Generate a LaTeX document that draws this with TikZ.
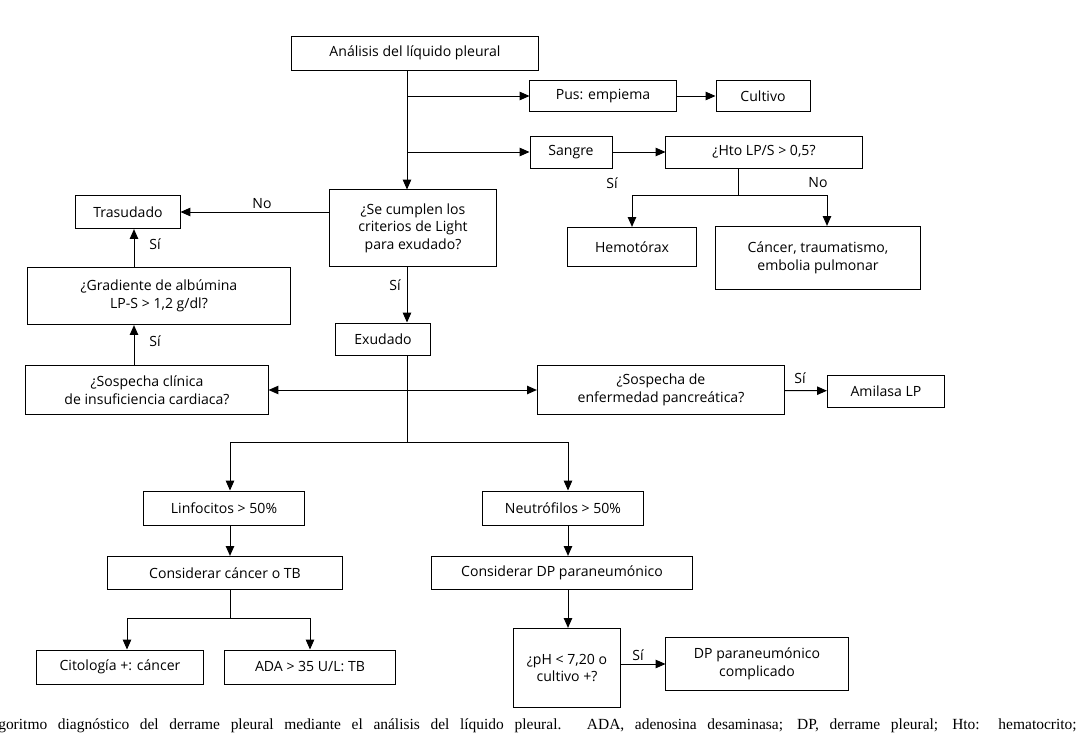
\documentclass[tikz,border=0pt]{standalone}
\usepackage{fontspec}
\setmainfont{Liberation Serif}
\newfontfamily\boxfont{Open Sans}
\usetikzlibrary{arrows.meta}

\begin{document}
\begin{tikzpicture}[x=0.025cm, y=-0.025cm,
    box/.style={draw, line width=0.7pt, align=center, inner sep=2pt,
      font=\boxfont\fontsize{10}{12.5}\selectfont},
    arr/.style={line width=0.7pt, -{Triangle[length=7pt,width=6pt]}},
    lbl/.style={font=\boxfont\fontsize{10}{12}\selectfont}]
    \useasboundingbox (0,0) rectangle (1080,735);

    % upper part
    \node[box, minimum width=6.15cm, minimum height=0.85cm] (analisis) at (415,53) {Análisis del líquido pleural};
    \node[box, minimum width=3.65cm, minimum height=0.78cm] (pus) at (603,96) {Pus: empiema};
    \node[box, minimum width=2.35cm, minimum height=0.78cm] (cultivo) at (763,96) {Cultivo};
    \node[box, minimum width=2.05cm, minimum height=0.8cm] (sangre) at (571,152) {Sangre};
    \node[box, minimum width=4.9cm, minimum height=0.8cm] (hto) at (764,152) {¿Hto LP/S > 0,5?};
    \node[box, minimum width=3.22cm, minimum height=0.98cm] (hemo) at (632,247) {Hemotórax};
    \node[box, minimum width=5.1cm, minimum height=1.58cm] (cancer) at (818,258) {Cáncer, traumatismo,\\embolia pulmonar};
    \node[box, minimum width=4.18cm, minimum height=1.9cm] (light) at (413,228) {¿Se cumplen los\\criterios de Light\\para exudado?};
    \node[box, minimum width=2.6cm, minimum height=0.83cm] (trasudado) at (128,212) {Trasudado};
    \node[box, minimum width=6.55cm, minimum height=1.43cm] (gradiente) at (159,296) {¿Gradiente de albúmina\\LP-S > 1,2 g/dl?};
    \node[box, minimum width=2.35cm, minimum height=0.8cm] (exudado) at (383,339) {Exudado};
    \node[box, minimum width=6.05cm, minimum height=1.23cm] (cardiaca) at (147,390) {¿Sospecha clínica\\de insuficiencia cardiaca?};
    \node[box, minimum width=6.18cm, minimum height=1.23cm] (pancreas) at (661,390) {¿Sospecha de\\enfermedad pancreática?};
    \node[box, minimum width=2.93cm, minimum height=0.8cm] (amilasa) at (886,391) {Amilasa LP};

    % lower part
    \node[box, minimum width=4.03cm, minimum height=0.85cm] (linfo) at (224,508) {Linfocitos > 50\%};
    \node[box, minimum width=4.0cm, minimum height=0.85cm] (neutro) at (563,508) {Neutrófilos > 50\%};
    \node[box, minimum width=5.88cm, minimum height=0.83cm] (consc) at (225,573) {Considerar cáncer o TB};
    \node[box, minimum width=6.53cm, minimum height=0.83cm] (consdp) at (562,573) {Considerar DP paraneumónico};
    \node[box, minimum width=4.15cm, minimum height=0.85cm] (cito) at (120,667) {Citología +: cáncer};
    \node[box, minimum width=4.28cm, minimum height=0.85cm] (ada) at (310,667) {ADA > 35 U/L: TB};
    \node[box, minimum width=2.65cm, minimum height=1.98cm] (ph) at (567,668) {¿pH < 7,20 o\\cultivo +?};
    \node[box, minimum width=4.55cm, minimum height=1.33cm] (dpc) at (757,664) {DP paraneumónico\\complicado};

    \coordinate (j1) at (407,96);
    \coordinate (j2) at (407,152);
    \coordinate (j3) at (738,195);
    \coordinate (j4) at (407,390);
    \coordinate (j5) at (407,442);
    \coordinate (j6) at (230,618);

    \draw[arr] (analisis.south -| j1) -- (light.north -| j1);
    \draw[arr] (j1) -- (pus);
    \draw[arr] (pus) -- (cultivo);
    \draw[arr] (j2) -- (sangre);
    \draw[arr] (sangre) -- (hto);
    \draw[line width=0.7pt] (hto.south -| j3) -- (j3);
    \draw[arr] (j3) -| (hemo.north);
    \draw[arr] (j3) -| (cancer.north -| 827,0);
    \node[lbl] (si1) at (612,183) {Sí};
    \node[lbl] (no1) at (818,183) {No};

    \draw[arr] (light.west |- trasudado) -- (trasudado);
    \node[lbl] (no2) at (262,204) {No};
    \draw[arr] (light.south -| j1) -- (exudado.north -| j1);
    \node[lbl] (si2) at (395,285) {Sí};
    \draw[arr] (gradiente.north -| 134,0) -- (trasudado.south -| 134,0);
    \node[lbl] (si3) at (155,244) {Sí};
    \draw[arr] (cardiaca.north -| 134,0) -- (gradiente.south -| 134,0);
    \node[lbl] (si4) at (155,341) {Sí};

    \draw[line width=0.7pt] (exudado.south -| j4) -- (j5);
    \draw[arr] (j4) -- (cardiaca.east |- j4);
    \draw[arr] (j4) -- (pancreas.west |- j4);
    \draw[arr] (pancreas) -- (amilasa);
    \node[lbl] (si5) at (800,378) {Sí};
    \draw[arr] (j5) -| (linfo.north -| j6);
    \draw[arr] (j5) -| (neutro.north -| 568,0);

    \draw[arr] (linfo.south -| j6) -- (consc.north -| j6);
    \draw[line width=0.7pt] (consc.south -| j6) -- (j6);
    \draw[arr] (j6) -| (cito.north -| 127,0);
    \draw[arr] (j6) -| (ada.north -| 310,0);
    \draw[arr] (neutro.south -| 568,0) -- (consdp.north -| 568,0);
    \draw[arr] (consdp.south -| 568,0) -- (ph.north -| 568,0);
    \draw[arr] (ph.east |- dpc) -- (dpc);
    \node[lbl] (si6) at (638,655) {Sí};

    \node[anchor=west, inner sep=0pt, font=\fontsize{11}{12}\selectfont] (caption) at (-2,726)
      {\hbox to 26.95cm{goritmo diagnóstico del derrame pleural mediante el análisis del líquido pleural. ADA, adenosina desaminasa; DP, derrame pleural; Hto: hematocrito;}};
\end{tikzpicture}
\end{document}
